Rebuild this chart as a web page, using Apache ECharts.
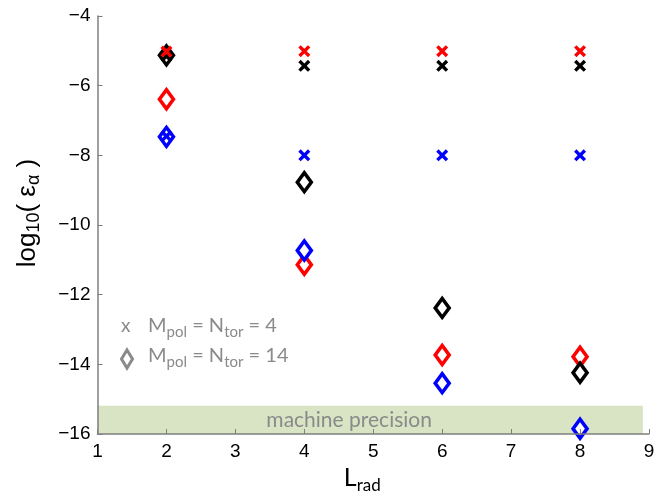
<!DOCTYPE html>
<html><head><meta charset="utf-8">
<script src="https://cdn.jsdelivr.net/npm/echarts@6/dist/echarts.min.js"></script>
<style>html,body{margin:0;padding:0;background:#fff}#c{width:667px;height:499px}</style>
</head><body><div id="c"></div>
<script>
// ---- data ----
const Lrad = [2, 4, 6, 8];
const crossRed   = [-5.02, -5.01, -5.01, -5.01];
const crossBlack = [-5.15, -5.43, -5.43, -5.43];
const crossBlue  = [-7.45, -8.00, -8.00, -8.00];
const diamondRed   = [-6.39, -11.14, -13.73, -13.78];
const diamondBlack = [-5.13, -8.77, -12.38, -14.24];
const diamondBlue  = [-7.47, -10.73, -14.54, -15.85];
const precisionBandX = [1, 8.91];
const precisionBandY = [-16, -15.19];
const xTicks = [1, 2, 3, 4, 5, 6, 7, 8, 9];
const yTicks = [-16, -14, -12, -10, -8, -6, -4];

const pts = arr => Lrad.map((x, i) => [x, arr[i]]);
const crossPath = 'path://M0,2 L2,0 L5,3 L8,0 L10,2 L7,5 L10,8 L8,10 L5,7 L2,10 L0,8 L3,5 Z';
const minus = v => String(v).replace('-', '\u2212');

function diamondSeries(name, arr, color) {
  return {
    name, type: 'scatter', data: pts(arr), symbol: 'diamond', symbolSize: [14, 19], z: 2,
    itemStyle: { color: '#fff', borderColor: color, borderWidth: 3.6, opacity: 1 },
    emphasis: { disabled: true }
  };
}
function crossSeries(name, arr, color) {
  return {
    name, type: 'scatter', data: pts(arr), symbol: crossPath, symbolSize: 12, z: 3,
    itemStyle: { color: color, opacity: 1 }, emphasis: { disabled: true }
  };
}

const gray = '#8a8a8a';
const chart = echarts.init(document.getElementById('c'));
chart.setOption({
  animation: false,
  backgroundColor: '#fff',
  grid: { left: 97.5, right: 18, top: 16, bottom: 65, containLabel: false, outerBoundsMode: 'none' },
  xAxis: {
    type: 'value', min: xTicks[0], max: xTicks[xTicks.length - 1], interval: 1, z: 6,
    name: 'L{s|rad}', nameLocation: 'middle', nameGap: 28,
    nameTextStyle: { color: '#000', fontSize: 25, fontFamily: 'Lato', padding: [0, 22, 0, 0],
      rich: { s: { fontSize: 17, fontFamily: 'Lato', color: '#000', padding: [14, 0, 0, 0] } } },
    axisLine: { show: true, onZero: false, lineStyle: { color: '#7f7f7f', width: 1.5 } },
    axisTick: { show: true, inside: true, length: 5, lineStyle: { color: '#7f7f7f', width: 1 } },
    axisLabel: { color: '#000', fontSize: 19, fontFamily: 'Liberation Sans', margin: 8, formatter: minus },
    splitLine: { show: false }
  },
  yAxis: {
    type: 'value', min: yTicks[0], max: yTicks[yTicks.length - 1], interval: 2, z: 6,
    name: 'log{s|10}( ε{s|α} )', nameLocation: 'middle', nameGap: 54,
    nameTextStyle: { color: '#000', fontSize: 26, fontFamily: 'Liberation Sans', padding: [0, 0, 0, 24],
      rich: { s: { fontSize: 18, fontFamily: 'Liberation Sans', color: '#000', padding: [14, 0, 0, 0] } } },
    axisLine: { show: true, onZero: false, lineStyle: { color: '#7f7f7f', width: 1.5 } },
    axisTick: { show: true, inside: true, length: 5, lineStyle: { color: '#7f7f7f', width: 1 } },
    axisLabel: { color: '#000', fontSize: 19, fontFamily: 'Liberation Sans', margin: 7, formatter: minus },
    splitLine: { show: false }
  },
  series: [
    diamondSeries('red14', diamondRed, '#ff0000'),
    diamondSeries('blue14', diamondBlue, '#0000ff'),
    diamondSeries('black14', diamondBlack, '#000000'),
    crossSeries('black4', crossBlack, '#000000'),
    crossSeries('blue4', crossBlue, '#0000ff'),
    crossSeries('red4', crossRed, '#ff0000'),
    {
      name: 'band', type: 'scatter', data: [], z: 5,
      markArea: {
        silent: true,
        itemStyle: { color: 'rgba(125,165,55,0.30)' },
        label: { show: true, position: 'inside', offset: [-21, 0], formatter: 'machine precision',
          color: gray, fontSize: 21, fontFamily: 'Lato' },
        data: [[{ coord: [precisionBandX[0], precisionBandY[0]] }, { coord: [precisionBandX[1], precisionBandY[1]] }]]
      }
    }
  ],
  graphic: [
    { type: 'text', left: 121, top: 316, style: { text: 'x', fill: gray, font: '19px Lato' } },
    { type: 'polygon', shape: { points: [[127, 350], [132.5, 359], [127, 368], [121.5, 359]] },
      style: { fill: '#fff', stroke: gray, lineWidth: 3 } },
    { type: 'text', left: 148, top: 316, style: { text: 'M{s|pol} = N{s|tor} = 4', fill: gray, font: '20px Lato',
      rich: { s: { fontSize: 15, fontFamily: 'Lato', fill: gray, padding: [12, 0, 0, 0] } } } },
    { type: 'text', left: 148, top: 346, style: { text: 'M{s|pol} = N{s|tor} = 14', fill: gray, font: '20px Lato',
      rich: { s: { fontSize: 15, fontFamily: 'Lato', fill: gray, padding: [12, 0, 0, 0] } } } }
  ]
});
</script></body></html>
